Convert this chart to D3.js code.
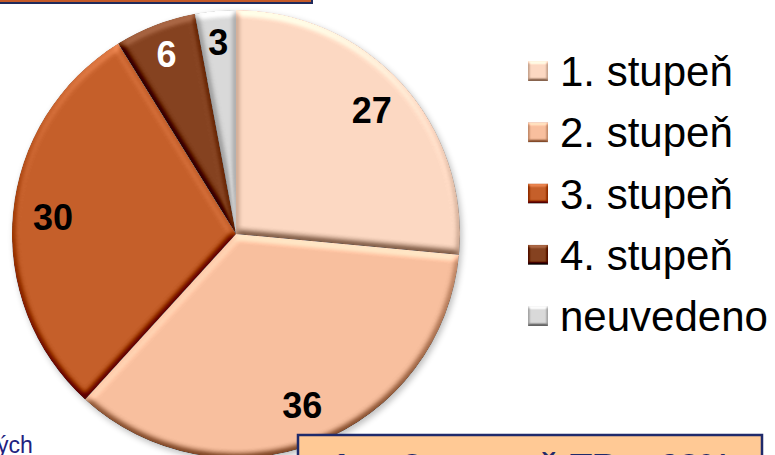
<!DOCTYPE html>
<html><head><meta charset="utf-8">
<script src="https://cdn.jsdelivr.net/npm/d3@7"></script>
<style>html,body{margin:0;padding:0;background:#fff;overflow:hidden}svg{display:block}</style>
</head><body>
<svg id="chart" width="775" height="455"></svg>
<script>
const categories = ["1. stupeň", "2. stupeň", "3. stupeň", "4. stupeň", "neuvedeno"];
const values = [27, 36, 30, 6, 3];
const colors = ["#FCD8C2", "#F8BF9E", "#C55F2A", "#854220", "#D9D9D9"];
const labelColors = ["#000", "#000", "#000", "#fff", "#000"];
const bottomNote = "1. + 2. stupeň TB = 63%";
const leftNote = "ých";

const svg = d3.select("#chart");
const defs = svg.append("defs");

function bevel(id, sd, scale, k) {
  const f = defs.append("filter").attr("id", id)
    .attr("x", "-10%").attr("y", "-10%").attr("width", "120%").attr("height", "120%")
    .attr("color-interpolation-filters", "sRGB");
  f.append("feGaussianBlur").attr("in", "SourceAlpha").attr("stdDeviation", sd).attr("result", "blur");
  f.append("feDiffuseLighting").attr("in", "blur").attr("surfaceScale", scale)
    .attr("diffuseConstant", 1).attr("lighting-color", "#fff").attr("result", "light")
    .append("feDistantLight").attr("azimuth", 270).attr("elevation", 50);
  f.append("feComposite").attr("in", "SourceGraphic").attr("in2", "light")
    .attr("operator", "arithmetic").attr("k1", 0).attr("k2", 1).attr("k3", k).attr("k4", -k * Math.sin(50 * Math.PI / 180))
    .attr("result", "lit");
  f.append("feComposite").attr("in", "lit").attr("in2", "SourceAlpha").attr("operator", "in");
}
bevel("bevel", 3.5, 5, 0.65);
bevel("bevelSmall", 1.5, 3, 0.6);

const shadow = defs.append("filter").attr("id", "shadow")
  .attr("x", "-10%").attr("y", "-10%").attr("width", "120%").attr("height", "120%");
shadow.append("feGaussianBlur").attr("stdDeviation", 3);

// top box (partially visible)
svg.append("rect").attr("x", -4).attr("y", -40).attr("width", 316).attr("height", 43)
  .attr("fill", "#C55A28").attr("stroke", "#1F2A5C").attr("stroke-width", 2);

// pie
const cx = 236, cy = 234, R = 224;
const g = svg.append("g").attr("transform", `translate(${cx},${cy})`);
g.append("circle").attr("cx", 2).attr("cy", 3).attr("r", R).attr("fill", "#000").attr("opacity", 0.25)
  .attr("filter", "url(#shadow)");

const pie = d3.pie().sort(null).value(d => d)(values);
const arc = d3.arc().innerRadius(0).outerRadius(R);
g.selectAll("path.slice").data(pie).join("path").attr("class", "slice")
  .attr("d", arc).attr("fill", (d, i) => colors[i]).attr("filter", "url(#bevel)");

const labelArc = d => {
  const r = d.value < 10 ? 0.86 * R : 0.82 * R;
  return d3.arc().innerRadius(r).outerRadius(r).centroid(d);
};
g.selectAll("text.lbl").data(pie).join("text").attr("class", "lbl")
  .attr("transform", d => `translate(${labelArc(d)})`)
  .attr("text-anchor", "middle").attr("dy", "0.36em")
  .attr("font-family", "Liberation Sans, Arial, sans-serif").attr("font-weight", "bold")
  .attr("font-size", 36).attr("fill", (d, i) => labelColors[i])
  .text(d => d.value);

// legend
const legY = d3.scalePoint().domain(categories).range([86, 331]);
const leg = svg.append("g").selectAll("g").data(categories).join("g")
  .attr("transform", d => `translate(0,${legY(d)})`);
leg.append("rect").attr("x", 528).attr("y", -25).attr("width", 20).attr("height", 20)
  .attr("fill", (d, i) => colors[i]).attr("filter", "url(#bevelSmall)");
leg.append("text").attr("x", 560).attr("y", 0)
  .attr("font-family", "Liberation Sans, Arial, sans-serif").attr("font-size", 42).attr("fill", "#000")
  .text(d => d);

// bottom-left text fragment
svg.append("text").attr("x", -3).attr("y", 453)
  .attr("font-family", "Liberation Sans, Arial, sans-serif").attr("font-size", 23).attr("fill", "#1F2280")
  .text(leftNote);

// bottom box (partially visible)
svg.append("rect").attr("x", 298).attr("y", 435).attr("width", 464).attr("height", 70)
  .attr("fill", "#FFC995").attr("stroke", "#1F2A6B").attr("stroke-width", 2.5);
svg.append("text").attr("x", 531).attr("y", 479.5).attr("text-anchor", "middle")
  .attr("font-family", "Liberation Sans, Arial, sans-serif").attr("font-weight", "bold")
  .attr("font-size", 36).attr("fill", "#1F2A6B").text(bottomNote);
</script>
</body></html>
